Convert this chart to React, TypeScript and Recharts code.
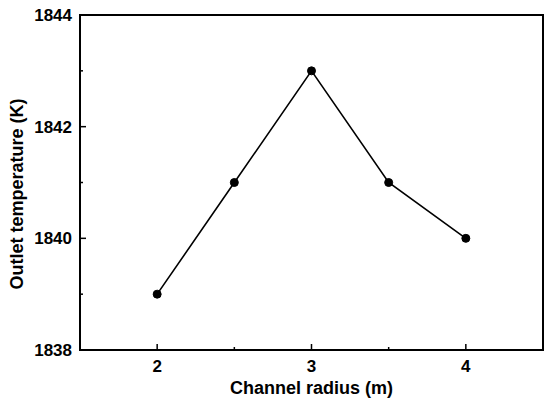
import React from 'react';
import { LineChart, Line, XAxis, YAxis, ReferenceArea } from 'recharts';

const radii = [2, 2.5, 3, 3.5, 4];
const temps = [1839, 1841, 1843, 1841, 1840];
const xTicks = [2, 2.5, 3, 3.5, 4];
const yTicks = [1838, 1839, 1840, 1841, 1842, 1843, 1844];
const xMajor = [2, 3, 4];
const yMajor = [1838, 1840, 1842, 1844];

const data = radii.map((r, i) => ({ r, t: temps[i] }));

const FONT = 'Liberation Sans, Arial, sans-serif';

const YTick = (props: any) => {
  const { x, y, payload } = props;
  const v = payload.value;
  const major = yMajor.includes(v);
  const ax = x + 8;
  return (
    <g>
      {v !== 1844 && v !== 1838 && (
        <line x1={ax} x2={ax + (major ? 6 : 3)} y1={y} y2={y} stroke="#000" strokeWidth={1.5} />
      )}
      {major && (
        <text x={x} y={y} dy={6} textAnchor="end" fontFamily={FONT} fontWeight="bold" fontSize={17} fill="#000">
          {v}
        </text>
      )}
    </g>
  );
};

const XTick = (props: any) => {
  const { x, payload } = props;
  const v = payload.value;
  const major = xMajor.includes(v);
  return (
    <g>
      <line x1={x} x2={x} y1={350} y2={350 - (major ? 6 : 3)} stroke="#000" strokeWidth={1.5} />
      {major && (
        <text x={x} y={372} textAnchor="middle" fontFamily={FONT} fontWeight="bold" fontSize={17} fill="#000">
          {v}
        </text>
      )}
    </g>
  );
};

const YLabel = () => (
  <text
    transform="translate(17,194) rotate(-90)"
    textAnchor="middle"
    dominantBaseline="central"
    fontFamily={FONT}
    fontWeight="bold"
    fontSize={18}
    fill="#000"
  >
    Outlet temperature (K)
  </text>
);

const XLabel = () => (
  <text x={311.5} y={394} textAnchor="middle" fontFamily={FONT} fontWeight="bold" fontSize={18} fill="#000">
    Channel radius (m)
  </text>
);

export default function App() {
  return (
    <div style={{ position: 'absolute', left: 0, top: 0, background: '#fff' }}>
      <LineChart width={550} height={405} data={data} margin={{ top: 15, right: 7, left: 0, bottom: 0 }}>
        <XAxis
          dataKey="r"
          type="number"
          domain={[1.5, 4.5]}
          ticks={xTicks}
          tick={<XTick />}
          tickLine={false}
          axisLine={{ stroke: '#000', strokeWidth: 2 }}
          height={55}
          interval={0}
          label={{ content: () => <XLabel /> }}
        />
        <YAxis
          type="number"
          domain={[1838, 1844]}
          ticks={yTicks}
          tick={<YTick />}
          tickLine={false}
          tickSize={0}
          tickMargin={8}
          axisLine={{ stroke: '#000', strokeWidth: 2 }}
          width={80}
          interval={0}
          label={{ content: () => <YLabel /> }}
        />
        <ReferenceArea x1={1.5} x2={4.5} y1={1838} y2={1844} fill="none" stroke="#000" strokeWidth={2} ifOverflow="visible" />
        <Line
          dataKey="t"
          stroke="#000"
          strokeWidth={1.6}
          dot={{ r: 4, fill: '#000', stroke: '#000', strokeWidth: 1 }}
          isAnimationActive={false}
        />
      </LineChart>
    </div>
  );
}
